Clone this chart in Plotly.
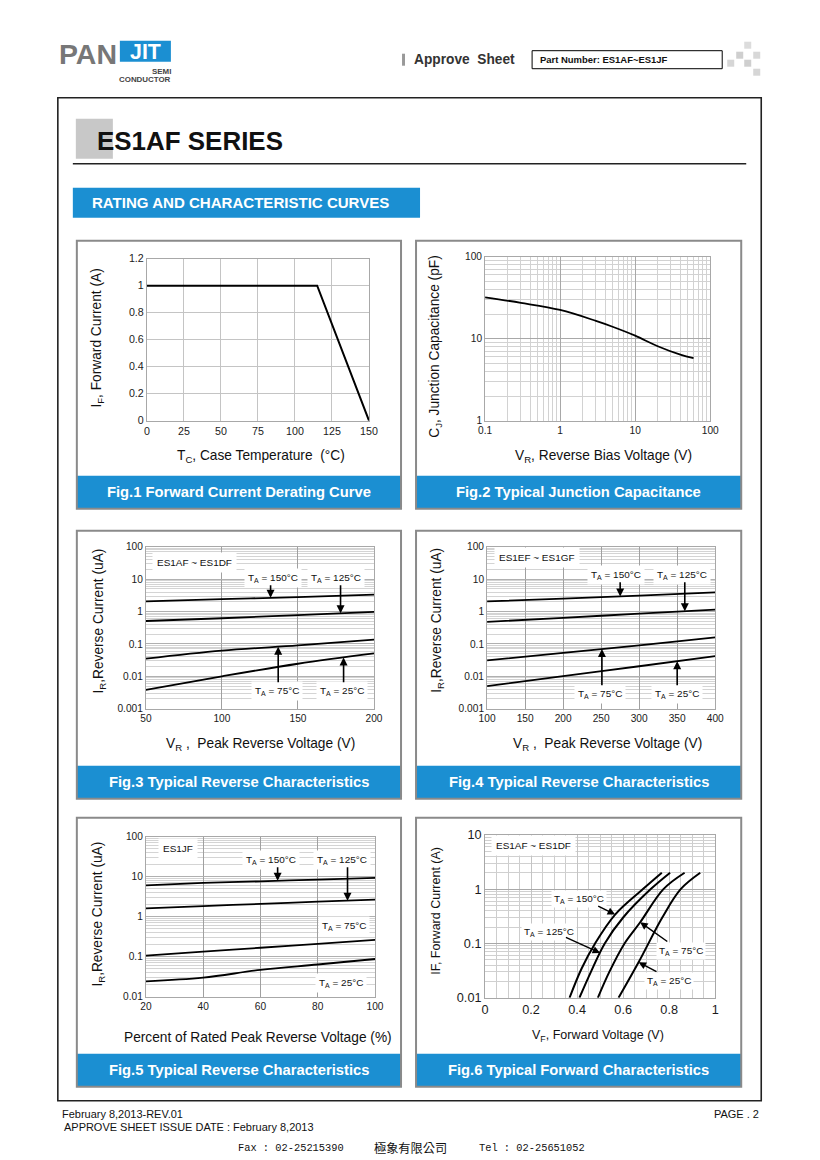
import numpy as np
import plotly.graph_objects as go

W, H = 820, 1160
FONT = "Liberation Sans, Arial, sans-serif"
BLUE = "#1b8fd2"

# ---------------- data ----------------
fig1_tc = [0, 115, 150]
fig1_if = [1.0, 1.0, 0.0]

fig2_vr = [0.1, 0.3, 1, 3, 5, 10, 20, 40, 60]
fig2_cj = [32, 27.4, 22.4, 16.5, 14.0, 10.9, 8.1, 6.4, 5.8]

fig3_vr = [50, 100, 150, 200]
fig3_ir_150 = [2.05, 2.4, 2.8, 3.35]
fig3_ir_125 = [0.51, 0.62, 0.78, 0.97]
fig3_ir_75 = [0.035, 0.062, 0.09, 0.135]
fig3_ir_25 = [0.0038, 0.0100, 0.0245, 0.051]

fig4_vr = [100, 200, 300, 400]
fig4_ir_150 = [2.05, 2.5, 3.1, 3.9]
fig4_ir_125 = [0.48, 0.64, 0.86, 1.15]
fig4_ir_75 = [0.031, 0.053, 0.09, 0.16]
fig4_ir_25 = [0.005, 0.0102, 0.0205, 0.042]

fig5_pct = [20, 40, 60, 80, 100]
fig5_ir_150 = [6.1, 7.0, 7.7, 8.5, 9.35]
fig5_ir_125 = [1.62, 1.85, 2.1, 2.38, 2.67]
fig5_ir_75 = [0.107, 0.134, 0.168, 0.21, 0.265]
fig5_ir_25 = [0.0243, 0.030, 0.047, 0.064, 0.088]

fig6_vf_150 = [0.367, 0.42, 0.478, 0.565, 0.686, 0.768]
fig6_if_150 = [0.01, 0.035, 0.1, 0.34, 1.0, 2.0]
fig6_vf_125 = [0.41, 0.46, 0.52, 0.60, 0.72, 0.804]
fig6_if_125 = [0.01, 0.03, 0.1, 0.3, 1.0, 2.0]
fig6_vf_75 = [0.49, 0.54, 0.606, 0.674, 0.775, 0.867]
fig6_if_75 = [0.01, 0.03, 0.1, 0.245, 1.0, 2.0]
fig6_vf_25 = [0.58, 0.667, 0.77, 0.85, 0.935]
fig6_if_25 = [0.01, 0.045, 0.3, 1.0, 2.0]

fig1_xticks = [0, 25, 50, 75, 100, 125, 150]
fig1_yticks = [0, 0.2, 0.4, 0.6, 0.8, 1.0, 1.2]
fig1_yticktext = ["0", "0.2", "0.4", "0.6", "0.8", "1", "1.2"]
fig3_xticks = [50, 100, 150, 200]
fig4_xticks = [100, 150, 200, 250, 300, 350, 400]
fig5_xticks = [20, 40, 60, 80, 100]
fig6_xticks = [0, 0.2, 0.4, 0.6, 0.8, 1.0]
fig6_xticktext = ["0", "0.2", "0.4", "0.6", "0.8", "1"]

fig_captions = [
    "Fig.1 Forward Current Derating Curve",
    "Fig.2 Typical Junction Capacitance",
    "Fig.3 Typical Reverse Characteristics",
    "Fig.4 Typical Reverse Characteristics",
    "Fig.5 Typical Reverse Characteristics",
    "Fig.6 Typical Forward Characteristics",
]

# page-to-photo mapping compensation (measured)
SX, OX = 0.9787, 8.2
SY, OY = 0.987, 7.3
FSC = 1 / 0.983


def fs(v):
    return v * FSC


def px(x):
    return ((x - OX) / SX) / W


def py(y):
    return 1 - ((y - OY) / SY) / H


def decade_vals(e0, e1):
    return [10.0 ** e for e in range(e0, e1 + 1)]


def decade_text(e0, e1):
    out = []
    for e in range(e0, e1 + 1):
        v = 10.0 ** e
        out.append(("%g" % v) if e < 0 else str(int(v)))
    return out


def minor_vals(e0, e1):
    return [m * 10.0 ** e for e in range(e0, e1) for m in range(2, 10)]


# subplot pixel boxes (reference pixels)
subs = {
    1: dict(x0=147, x1=369, y0=258, y1=420, xr=[0, 150], yr=[0, 1.2]),
    2: dict(x0=485, x1=710, y0=256, y1=420, xr=[-1, 2], yr=[0, 2]),
    3: dict(x0=146, x1=374, y0=546, y1=708, xr=[50, 200], yr=[-3, 2]),
    4: dict(x0=487, x1=715, y0=546, y1=708, xr=[100, 400], yr=[-3, 2]),
    5: dict(x0=146, x1=375, y0=836, y1=996, xr=[20, 100], yr=[-2, 2]),
    6: dict(x0=485, x1=715, y0=834, y1=997, xr=[0, 1], yr=[-2, 1]),
}


def yd(n, ypix):
    s = subs[n]
    f = (s["y1"] - ypix) / (s["y1"] - s["y0"])
    return s["yr"][0] + f * (s["yr"][1] - s["yr"][0])


fig = go.Figure()


def xa(n):
    return "x" if n == 1 else "x%d" % n


def ya(n):
    return "y" if n == 1 else "y%d" % n


def add_line(n, xs, ys, shape="linear", width=2):
    fig.add_trace(go.Scatter(x=xs, y=ys, mode="lines", xaxis=xa(n), yaxis=ya(n),
                             line=dict(color="black", width=width, shape=shape),
                             showlegend=False, hoverinfo="skip"))


add_line(1, fig1_tc, fig1_if)
add_line(2, fig2_vr, fig2_cj, "spline", 1.8)
for ys in (fig3_ir_150, fig3_ir_125, fig3_ir_75, fig3_ir_25):
    add_line(3, fig3_vr, ys, "spline", 1.8)
for ys in (fig4_ir_150, fig4_ir_125, fig4_ir_75, fig4_ir_25):
    add_line(4, fig4_vr, ys, "spline", 1.8)
for ys in (fig5_ir_150, fig5_ir_125, fig5_ir_75, fig5_ir_25):
    add_line(5, fig5_pct, ys, "spline", 1.8)
for xs, ys in ((fig6_vf_150, fig6_if_150), (fig6_vf_125, fig6_if_125),
               (fig6_vf_75, fig6_if_75), (fig6_vf_25, fig6_if_25)):
    add_line(6, xs, ys, "spline", 2)

layout = dict(width=W, height=H, margin=dict(l=0, r=0, t=0, b=0),
              paper_bgcolor="white", plot_bgcolor="white", showlegend=False)


def axis_base(n, which, size=9, **kw):
    s = subs[n]
    d = dict(showgrid=True, gridcolor="#c4c4c4", gridwidth=1, zeroline=False,
             showline=True, linecolor="#a8a8a8", linewidth=1, mirror=True,
             ticks="", fixedrange=True,
             tickfont=dict(family=FONT, size=fs(size), color="#1a1a1a"))
    if which == "x":
        d["domain"] = [px(s["x0"]), px(s["x1"])]
        d["range"] = s["xr"]
        d["anchor"] = ya(n)
    else:
        d["domain"] = [py(s["y1"]), py(s["y0"])]
        d["range"] = s["yr"]
        d["anchor"] = xa(n)
    d.update(kw)
    return d


def akey(n, which):
    return ("%saxis" % which) + ("" if n == 1 else str(n))


TK = 10.5
# Fig1
layout[akey(1, "x")] = axis_base(1, "x", TK, tickmode="array", tickvals=fig1_xticks)
layout[akey(1, "y")] = axis_base(1, "y", TK, tickmode="array", tickvals=fig1_yticks,
                                 ticktext=fig1_yticktext)
# Fig2
layout[akey(2, "x")] = axis_base(2, "x", 10, type="log", tickmode="array",
                                 tickvals=decade_vals(-1, 2), ticktext=decade_text(-1, 2),
                                 gridcolor="#a8a8a8",
                                 minor=dict(tickmode="array", tickvals=minor_vals(-1, 2),
                                            showgrid=True, gridcolor="#d2d2d2"))
layout[akey(2, "y")] = axis_base(2, "y", 10, type="log", tickmode="array",
                                 tickvals=decade_vals(0, 2), ticktext=decade_text(0, 2),
                                 gridcolor="#a8a8a8",
                                 minor=dict(tickmode="array", tickvals=minor_vals(0, 2),
                                            showgrid=True, gridcolor="#d2d2d2"))
# Fig3-5 (reverse)
for n, xt, e0 in ((3, fig3_xticks, -3), (4, fig4_xticks, -3), (5, fig5_xticks, -2)):
    layout[akey(n, "x")] = axis_base(n, "x", 10, tickmode="array", tickvals=xt,
                                     gridcolor="#a0a0a0")
    layout[akey(n, "y")] = axis_base(n, "y", 10, type="log", tickmode="array",
                                     tickvals=decade_vals(e0, 2), ticktext=decade_text(e0, 2),
                                     gridcolor="#b0b0b0",
                                     minor=dict(tickmode="array", tickvals=minor_vals(e0, 2),
                                                showgrid=True, gridcolor="#d4d4d4"))
# Fig6
layout[akey(6, "x")] = axis_base(6, "x", 12.5, tickmode="array", tickvals=fig6_xticks,
                                 ticktext=fig6_xticktext, gridcolor="#c4c4c4",
                                 minor=dict(tickmode="array",
                                            tickvals=[0.05, 0.1, 0.15, 0.25, 0.3, 0.35, 0.45, 0.5,
                                                      0.55, 0.65, 0.7, 0.75, 0.85, 0.9, 0.95],
                                            showgrid=True, gridcolor="#cdcdcd"))
layout[akey(6, "y")] = axis_base(6, "y", 12.5, type="log", tickmode="array",
                                 tickvals=decade_vals(-2, 1), ticktext=decade_text(-2, 1),
                                 gridcolor="#a8a8a8",
                                 minor=dict(tickmode="array", tickvals=minor_vals(-2, 1),
                                            showgrid=True, gridcolor="#d0d0d0"))

shapes = []
ann = []


def rect(x0, y0, x1, y1, fill=None, color=None, lw=0, layer="below"):
    d = dict(type="rect", xref="paper", yref="paper", x0=px(x0), x1=px(x1),
             y0=py(y1), y1=py(y0), layer=layer,
             line=dict(width=lw, color=color if color else "rgba(0,0,0,0)"))
    if fill:
        d["fillcolor"] = fill
    shapes.append(d)


def hline(x0, x1, y, color="black", lw=1.5):
    shapes.append(dict(type="line", xref="paper", yref="paper", x0=px(x0), x1=px(x1),
                       y0=py(y), y1=py(y), line=dict(color=color, width=lw)))


def text(x, y, s, size, color="#111", xanchor="center", yanchor="middle",
         family=FONT, angle=0, bg=None, pad=1):
    d = dict(x=px(x), y=py(y), xref="paper", yref="paper", text=s, showarrow=False,
             xanchor=xanchor, yanchor=yanchor, textangle=angle,
             font=dict(family=family, size=fs(size), color=color), borderpad=pad)
    if bg:
        d["bgcolor"] = bg
    ann.append(d)


# ---------------- header ----------------
text(57, 53, "<b>PAN</b>", 28, color="#777777", xanchor="left")
rect(120, 40, 171, 61, fill=BLUE)
text(145.5, 51, "<b>JIT</b>", 21, color="white")
text(173, 71, "<b>SEMI</b>", 7.8, color="#444", xanchor="right")
text(173, 79, "<b>CONDUCTOR</b>", 7.8, color="#444", xanchor="right")

rect(402, 53, 405, 65, fill="#999999")
text(412, 59, "<b>Approve  Sheet</b>", 13.5, color="#333", xanchor="left")
rect(532, 50, 722, 68, fill="white", color="black", lw=1)
text(538, 59, "<b>Part Number: ES1AF~ES1JF</b>", 9.3, color="#111", xanchor="left")
for (a, b, c) in ((744, 41, "#dcdcdc"), (736, 51, "#cfcfcf"), (753, 51, "#d8d8d8"),
                  (727, 59, "#d6d6d6"), (744, 59, "#cfcfcf"), (753, 68, "#d6d6d6")):
    rect(a, b, a + 7, b + 7, fill=c)

# main frame
rect(58, 97, 761, 1100, color="#222", lw=1.6, layer="below")
rect(76, 118, 113, 158, fill="#c8c8c8")
text(95, 140, "<b>ES1AF SERIES</b>", 25.5, color="#111", xanchor="left")
hline(73, 746, 163, "#222", 1.5)
rect(73, 187, 420, 217, fill=BLUE)
text(90, 202, "<b>RATING AND CHARACTERISTIC CURVES</b>", 14.8, color="white", xanchor="left")

# panels
panels = [(77, 240, 401, 508), (416, 240, 741, 508), (77, 530, 401, 798),
          (416, 530, 741, 798), (77, 817, 401, 1086), (416, 817, 741, 1086)]
for i, (a, b, c, d) in enumerate(panels):
    rect(a, d - 33, c, d, fill=BLUE)
    rect(a, b, c, d, color="#8a8a8a", lw=2, layer="above")
    text((a + c) / 2, d - 16.5, "<b>%s</b>" % fig_captions[i], 14.5, color="white")

# axis titles
TS = 13.5
text(98, 337, "I<sub>F</sub>, Forward Current (A)", TS, angle=-90)
text(261, 456, "T<sub>C</sub>, Case Temperature  (°C)", TS)
text(436, 346, "C<sub>J</sub>, Junction Capacitance (pF)", TS, angle=-90)
text(603, 456, "V<sub>R</sub>, Reverse Bias Voltage (V)", TS)
text(100, 620, "I<sub>R</sub>,Reverse Current (uA)", TS, angle=-90)
text(261, 744, "V<sub>R</sub> ,  Peak Reverse Voltage (V)", TS)
text(438, 620, "I<sub>R</sub>,Reverse Current (uA)", TS, angle=-90)
text(607, 744, "V<sub>R</sub> ,  Peak Reverse Voltage (V)", TS)
text(99, 913, "I<sub>R</sub>,Reverse Current (uA)", TS, angle=-90)
text(258, 1037, "Percent of Rated Peak Reverse Voltage (%)", TS)
text(436, 910, "IF, Forward Current (A)", 12.3, angle=-90)
text(598, 1035, "V<sub>F</sub>, Forward Voltage (V)", 12.3)

# in-plot labels
LS = 9.8


def ta(t):
    return "T<sub>A</sub> = %s°C" % t


text(152, 562, "ES1AF ~ ES1DF", LS, xanchor="left", bg="white", pad=4)
text(273, 577, ta(150), LS, bg="white", pad=3)
text(336, 577, ta(125), LS, bg="white", pad=3)
text(277, 690, ta(75), LS, bg="white", pad=3)
text(342, 690, ta(25), LS, bg="white", pad=3)

text(494, 557, "ES1EF ~ ES1GF", LS, xanchor="left", bg="white", pad=4)
text(616, 574, ta(150), LS, bg="white", pad=3)
text(682, 574, ta(125), LS, bg="white", pad=3)
text(600, 693, ta(75), LS, bg="white", pad=3)
text(677, 693, ta(25), LS, bg="white", pad=3)

text(158, 848, "ES1JF", LS, xanchor="left", bg="white", pad=4)
text(271, 859, ta(150), LS, bg="white", pad=3)
text(342, 859, ta(125), LS, bg="white", pad=3)
text(344, 925, ta(75), LS, bg="white", pad=3)
text(341, 982, ta(25), LS, bg="white", pad=3)

text(491, 845, "ES1AF ~ ES1DF", LS, xanchor="left", bg="white", pad=4)
text(579, 898, ta(150), LS, bg="white", pad=2)
text(549, 931, ta(125), LS, bg="white", pad=2)
text(681, 950, ta(75), LS, bg="white", pad=2)
text(669, 980, ta(25), LS, bg="white", pad=2)


def arrow_v(n, xs, ys, xt, tail_pix):
    tip = float(np.interp(xt, xs, np.log10(ys)))
    ann.append(dict(x=xt, y=tip, xref=xa(n), yref=ya(n), ax=xt, ay=yd(n, tail_pix),
                    axref=xa(n), ayref=ya(n), text="", showarrow=True, arrowhead=2,
                    arrowsize=1, arrowwidth=1.6, arrowcolor="black"))


def arrow_px(n, xs, ys, xt, dx, dy):
    tip = float(np.interp(xt, xs, np.log10(ys)))
    ann.append(dict(x=xt, y=tip, xref=xa(n), yref=ya(n), ax=dx / SX, ay=dy / SY, text="",
                    showarrow=True, arrowhead=2, arrowsize=1, arrowwidth=1.5,
                    arrowcolor="black"))


arrow_v(3, fig3_vr, fig3_ir_150, 132, 583)
arrow_v(3, fig3_vr, fig3_ir_125, 178, 583)
arrow_v(3, fig3_vr, fig3_ir_75, 137, 683)
arrow_v(3, fig3_vr, fig3_ir_25, 180, 683)

arrow_v(4, fig4_vr, fig4_ir_150, 275, 580)
arrow_v(4, fig4_vr, fig4_ir_125, 360, 580)
arrow_v(4, fig4_vr, fig4_ir_75, 251, 686)
arrow_v(4, fig4_vr, fig4_ir_25, 350, 686)

arrow_v(5, fig5_pct, fig5_ir_150, 66, 865)
arrow_v(5, fig5_pct, fig5_ir_125, 90.4, 865)

arrow_px(6, fig6_vf_150, fig6_if_150, 0.565, -18, -9)
arrow_px(6, fig6_vf_125, fig6_if_125, 0.50, -35, -16)
arrow_px(6, fig6_vf_75, fig6_if_75, 0.674, 28, 20)
arrow_px(6, fig6_vf_25, fig6_if_25, 0.667, 19, 10)

# ---------------- footer ----------------
text(60, 1113, "February 8,2013-REV.01", 10.8, xanchor="left")
text(62, 1126, "APPROVE SHEET ISSUE DATE : February 8,2013", 10.8, xanchor="left")
text(761, 1113, "PAGE . 2", 10.8, xanchor="right")
MONO = "Liberation Mono, DejaVu Sans Mono, monospace"
text(236, 1147, "Fax : 02-25215390", 10.2, xanchor="left", family=MONO)
text(372, 1147, "極象有限公司", 12, xanchor="left", family="Noto Sans CJK TC")
text(477, 1147, "Tel : 02-25651052", 10.2, xanchor="left", family=MONO)

layout["shapes"] = shapes
layout["annotations"] = ann
fig.update_layout(**layout)
fig.write_html("out.html",
               config={"displayModeBar": False},
               post_script="document.body.style.margin='0';"
                           "document.body.style.overflow='hidden';")
